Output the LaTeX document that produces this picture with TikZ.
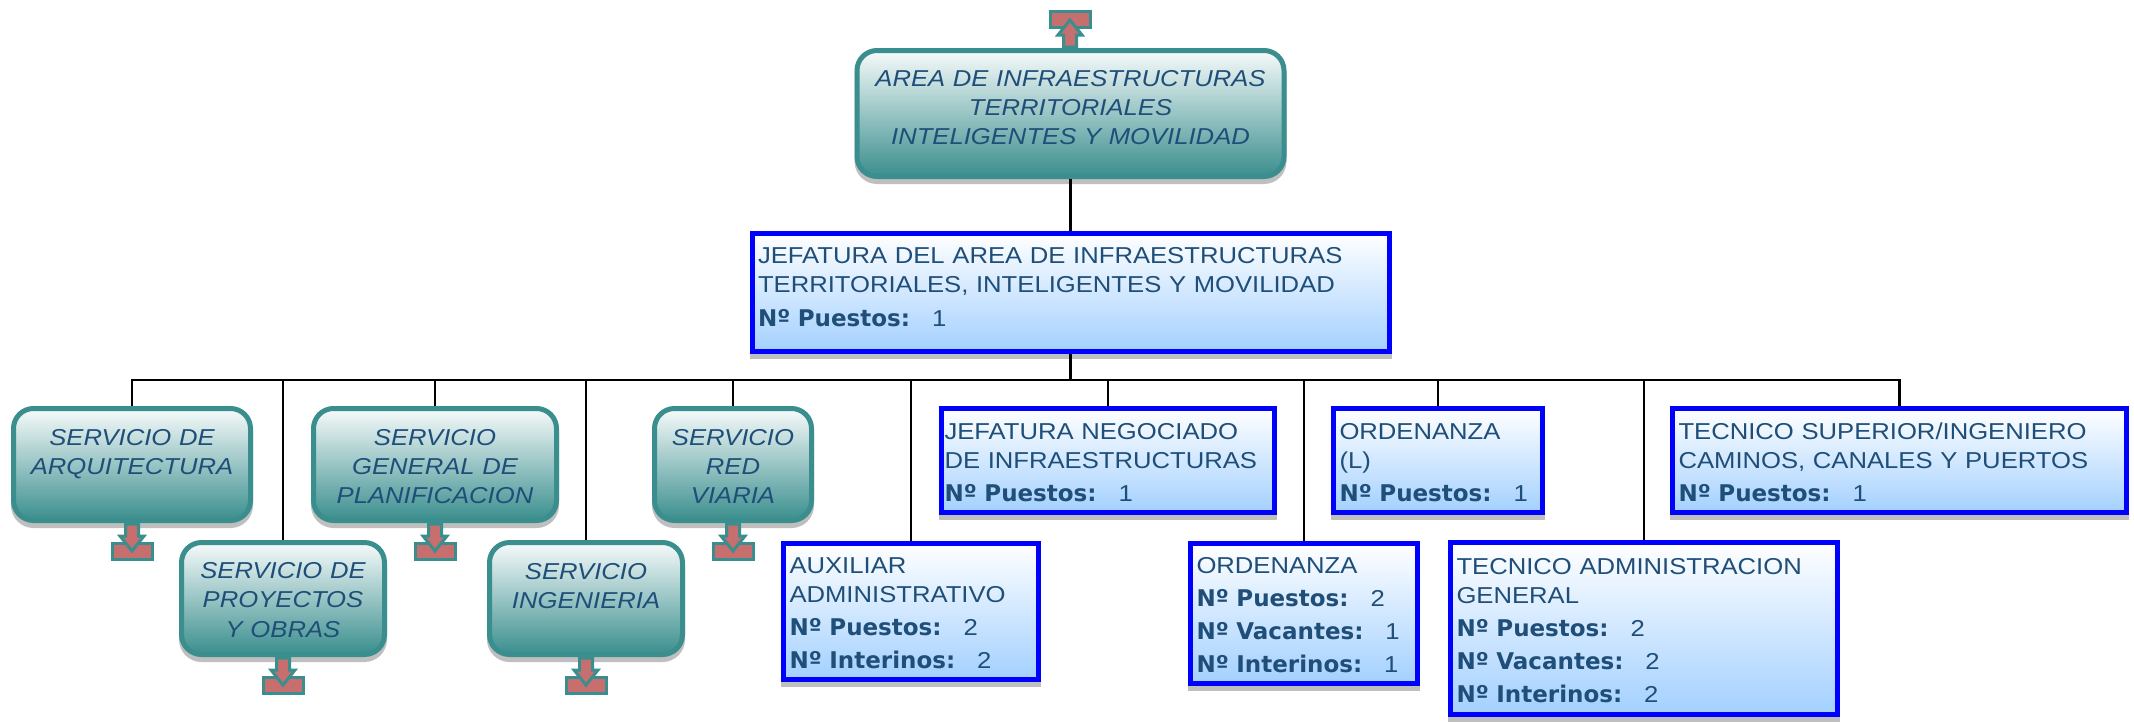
\documentclass[tikz,border=0pt]{standalone}
\usepackage{fontspec}
\usepackage{xcolor}
\usetikzlibrary{shadows}
\setmainfont{Liberation Sans}[FakeStretch=1.115]
\newfontfamily\negrita{DejaVu Sans}[Scale=1.0]
\definecolor{verde}{HTML}{3A8E8E}
\definecolor{tinta}{HTML}{1F4E79}
\definecolor{rojizo}{HTML}{C76F6F}
\definecolor{celeste}{HTML}{A3D0FF}
\newcommand{\dato}[2]{{\negrita\bfseries #1}\hspace{22pt}#2}
\tikzset{
	comun/.style={text=tinta,line width=5pt,font=\fontsize{23}{29}\selectfont,
		general shadow={fill=black!25,draw=black!25,line width=5pt,shadow yshift=-5pt}},
	servicio/.style={comun,draw=verde,rounded corners=20pt,align=center,inner sep=0pt,
		execute at begin node={\rule{0pt}{20pt}},
		top color=verde!4,bottom color=verde,font=\itshape\fontsize{23}{29}\selectfont},
	puesto/.style={comun,draw=blue,rectangle,align=left,inner xsep=6pt,inner ysep=0pt,
		execute at begin node={\rule{0pt}{20pt}},
		top color=white,bottom color=celeste},
	conector/.style={black,line width=2.5pt},
	tapa/.style={draw=verde,fill=rojizo,line width=3pt},
	pics/salida/.style={code={
		\draw[tapa] (-20,20.5) rectangle (20,36.5);
		\draw[tapa,line join=miter] (-6.5,1) -- (6.5,1) -- (6.5,13) -- (12,13) -- (0,28)
			-- (-12,13) -- (-6.5,13) -- cycle;
	}}
}
\begin{document}
\begin{tikzpicture}[x=1pt,y=-1pt]
	\useasboundingbox (0,0) rectangle (2134,724);
	\node[servicio,text width=427pt,minimum height=126pt] (area) at (1070.5,113.5)
		{AREA DE INFRAESTRUCTURAS\\TERRITORIALES\\INTELIGENTES Y MOVILIDAD\\[-13pt]~};
	\node[puesto,text width=625pt,minimum height=118pt] (jefatura) at (1070.5,292.5)
		{JEFATURA DEL AREA DE INFRAESTRUCTURAS\\TERRITORIALES, INTELIGENTES Y MOVILIDAD\\[5pt]\dato{Nº Puestos:}{1}\\[-13pt]~};
	\node[servicio,text width=237pt,minimum height=112pt] (arq) at (132,464.5)
		{SERVICIO DE\\ARQUITECTURA\\~};
	\node[servicio,text width=203pt,minimum height=112pt] (proy) at (283,598.5)
		{SERVICIO DE\\PROYECTOS\\[1pt]Y OBRAS};
	\node[servicio,text width=243pt,minimum height=112pt] (plan) at (435,464.5)
		{SERVICIO\\GENERAL DE\\PLANIFICACION};
	\node[servicio,text width=193pt,minimum height=112pt] (ing) at (586,598.5)
		{SERVICIO\\INGENIERIA\\~};
	\node[servicio,text width=157pt,minimum height=112pt] (red) at (733,464.5)
		{SERVICIO\\RED\\VIARIA};
	\node[puesto,text width=243pt,minimum height=136pt] (aux) at (911,611.5)
		{AUXILIAR\\ADMINISTRATIVO\\[4pt]\dato{Nº Puestos:}{2}\\[4pt]\dato{Nº Interinos:}{2}};
	\node[puesto,inner xsep=3pt,text width=327pt,minimum height=104pt] (neg) at (1108,460.5)
		{JEFATURA NEGOCIADO\\DE INFRAESTRUCTURAS\\[4pt]\dato{Nº Puestos:}{1}};
	\node[puesto,text width=215pt,minimum height=140pt] (ord) at (1304,613.5)
		{ORDENANZA\\[4pt]\dato{Nº Puestos:}{2}\\[4pt]\dato{Nº Vacantes:}{1}\\[4pt]\dato{Nº Interinos:}{1}};
	\node[puesto,text width=197pt,minimum height=104pt] (ordl) at (1438,460.5)
		{ORDENANZA\\(L)\\[4pt]\dato{Nº Puestos:}{1}};
	\node[puesto,text width=375pt,minimum height=172pt] (adm) at (1644,628.5)
		{TECNICO ADMINISTRACION\\GENERAL\\[4pt]\dato{Nº Puestos:}{2}\\[4pt]\dato{Nº Vacantes:}{2}\\[4pt]\dato{Nº Interinos:}{2}};
	\node[puesto,text width=442pt,minimum height=104pt] (sup) at (1899.5,460.5)
		{TECNICO SUPERIOR/INGENIERO\\CAMINOS, CANALES Y PUERTOS\\[4pt]\dato{Nº Puestos:}{1}};
	\coordinate (bus) at (1070.5,380);
	\draw[conector] (area.south) -- (jefatura.north);
	\draw[conector] (jefatura.south) -- (bus);
	\foreach \n in {arq,proy,plan,ing,red,aux,neg,ord,ordl,adm,sup}
		\draw[conector] (bus) -| (\n.north);
	\pic[yscale=-1] at (1070,48) {salida};
	\pic at (132,523) {salida};
	\pic at (283,657) {salida};
	\pic at (435,523) {salida};
	\pic at (586,657) {salida};
	\pic at (733,523) {salida};
\end{tikzpicture}
\end{document}
